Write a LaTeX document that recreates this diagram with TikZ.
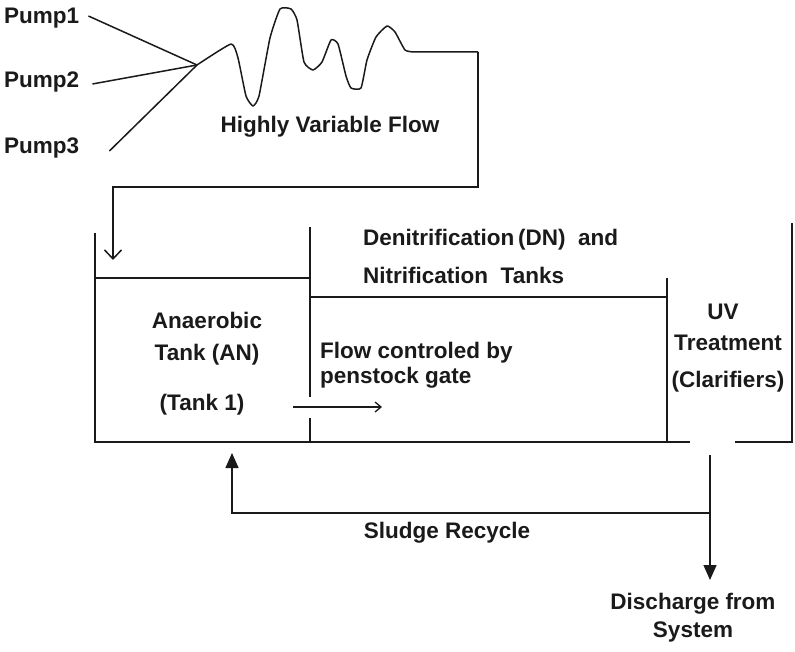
\documentclass[tikz,border=0pt]{standalone}
\usepackage{fontspec}
\setmainfont{Liberation Sans}
\usetikzlibrary{arrows.meta}
\definecolor{plantink}{HTML}{1A1A1A}

\begin{document}
\begin{tikzpicture}[
  x=1pt, y=-1pt,
  every node/.style={font=\fontsize{22.5}{26}\selectfont\bfseries, plantink, inner sep=2pt},
  wall/.style={plantink, line width=1.6pt},
  pipe/.style={plantink, line width=1.5pt},
  inflow/.style={pipe, -{Straight Barb[length=9pt, width=17pt, line width=1.5pt]}},
  gateflow/.style={pipe, -{Straight Barb[length=6pt, width=10pt, line width=1.3pt]}},
  sludge/.style={pipe, -{Triangle[length=15pt, width=13pt]}},
  label/.style={anchor=center},
  leftlabel/.style={anchor=west}
]
\useasboundingbox (0,0) rectangle (795,652);

%% ==== Pumps and variable inflow ======================================
\node[leftlabel] (pump1) at (2,18)  {Pump1};
\node[leftlabel] (pump2) at (2,82)  {Pump2};
\node[leftlabel] (pump3) at (2,148) {Pump3};
\coordinate (junction) at (197,65);

\draw[pipe] ([xshift=7pt,yshift=2pt]pump1.east) -- (junction);
\draw[pipe] ([xshift=11pt,yshift=-2pt]pump2.east) -- (junction);
\draw[pipe] ([xshift=28pt,yshift=-3pt]pump3.east) -- (junction);

\draw[pipe, line join=round] plot[smooth, tension=0.3] coordinates {
    (197,65) (231,44) (238,58) (246,96) (253,106) (259,96)
    (270,38) (280,9) (291,9) (297,20) (304,62) (313,70)
    (322,62) (331,40) (338,44) (346,76) (351,88) (361,88)
    (367,60) (376,37) (387,26) (395,32) (405,50) (414,52)}
  -- (478,52) coordinate (flowend);

\node[label] (variable) at (330,127) {Highly Variable Flow};

\coordinate (flowdrop) at (478,187);
\coordinate (flowturn) at (113,187);
\coordinate (inlet) at (113,260);
\draw[inflow] (flowend) -- (flowdrop) -- (flowturn) -- (inlet);

%% ==== Tanks ==========================================================
\draw[wall] (95,233) -- (95,442) -- (690,442);
\draw[wall] (95,278) -- (310,278);
\draw[wall] (310,227) -- (310,397);
\draw[wall] (310,418) -- (310,442);
\draw[wall] (310,297) -- (667,297);
\draw[wall] (667,278) -- (667,442);
\draw[wall] (735,442) -- (792,442) -- (792,223);

\node[label] (anaerobic) at (207,320) {Anaerobic};
\node[label] (tankan)    at (207,355) {Tank (AN)};
\node[label] (tankone)   at (202,405) {(Tank 1)};

\node[leftlabel] (denit) at (361,240) {Denitrification\,(DN)\ \ and};
\node[leftlabel] (nitri) at (361,275) {Nitrification\ \ Tanks};

\node[leftlabel] (gate1) at (318,353) {Flow controled by};
\node[leftlabel] (gate2) at (318,378) {penstock gate};

\node[label] (uv)         at (723,312) {UV};
\node[label] (treatment)  at (728,343) {Treatment};
\node[label] (clarifiers) at (728,382) {(Clarifiers)};

\coordinate (gatefrom) at (293,407);
\coordinate (gateto)   at (382,407);
\draw[gateflow] (gatefrom) -- (gateto);

%% ==== Sludge recycle and discharge ===================================
\coordinate (outlet)    at (710,455);
\coordinate (split)     at (710,513);
\coordinate (recturn)   at (232,513);
\coordinate (recreturn) at (232,453);
\coordinate (dischend)  at (710,580);

\draw[sludge] (outlet) -- (dischend);
\draw[sludge] (split) -- (recturn) -- (recreturn);

\node[label] (recycle)    at (447,533) {Sludge Recycle};
\node[label] (discharge1) at (693,604) {Discharge from};
\node[label] (discharge2) at (693,632) {System};

\end{tikzpicture}
\end{document}
